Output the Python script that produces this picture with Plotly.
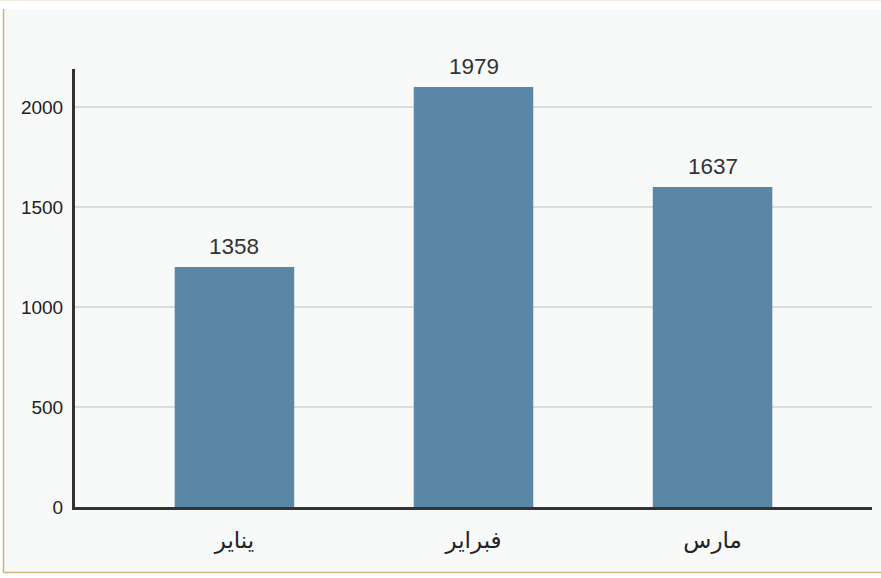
import plotly.graph_objects as go

months = ["يناير", "فبراير", "مارس"]
bar_heights = [1200, 2100, 1600]
value_labels = ["1358", "1979", "1637"]
y_ticks = [0, 500, 1000, 1500, 2000]

BAR = "#5b87a7"
FONT = "Liberation Sans, Arial, DejaVu Sans, sans-serif"

fig = go.Figure()
fig.add_trace(go.Bar(
    x=months, y=bar_heights, width=0.5,
    marker=dict(color=BAR, line=dict(width=0)),
    hoverinfo="skip",
))

for m, h, lab in zip(months, bar_heights, value_labels):
    fig.add_annotation(x=m, y=h, text=lab, showarrow=False,
                       yanchor="bottom", yshift=6,
                       font=dict(family=FONT, size=22.5, color="#333333"))

W, H = 881, 578
L, R, T, B = 75, 9, 69, 71
pw, ph = W - L - R, H - T - B

def px(x):
    return (x - L) / pw

def py(y):
    return (H - B - y) / ph

shapes = [
    dict(type="rect", xref="paper", yref="paper", x0=px(0), x1=px(W), y0=py(9), y1=py(0),
         fillcolor="white", line=dict(width=0), layer="below"),
    dict(type="rect", xref="paper", yref="paper", x0=px(0), x1=px(3), y0=py(H), y1=py(0),
         fillcolor="white", line=dict(width=0), layer="below"),
    dict(type="rect", xref="paper", yref="paper", x0=px(0), x1=px(W), y0=py(H), y1=py(573),
         fillcolor="white", line=dict(width=0), layer="below"),
    dict(type="line", xref="paper", yref="paper", x0=px(3.5), x1=px(3.5), y0=py(572.5), y1=py(9),
         line=dict(color="#cdb882", width=1.5)),
    dict(type="line", xref="paper", yref="paper", x0=px(3.5), x1=px(W), y0=py(572.5), y1=py(572.5),
         line=dict(color="#cdb882", width=1.5)),
    dict(type="line", xref="paper", yref="paper", x0=px(0), x1=px(W), y0=py(0.5), y1=py(0.5),
         line=dict(color="#f1ede3", width=1)),
]

fig.update_layout(
    width=W, height=H,
    margin=dict(l=L, r=R, t=T, b=B, pad=0),
    paper_bgcolor="#f8f9f9",
    plot_bgcolor="#f8f9f9",
    showlegend=False,
    shapes=shapes,
    xaxis=dict(
        type="category", range=[-0.667, 2.667],
        showgrid=False, zeroline=False,
        showline=True, linecolor="#333333", linewidth=3,
        ticks="", ticklabelstandoff=10,
        tickfont=dict(family=FONT, size=23, color="#222222"),
        fixedrange=True,
    ),
    yaxis=dict(
        range=[0, 2190], tickvals=y_ticks,
        showgrid=True, gridcolor="#dcdcdc", gridwidth=2,
        zeroline=False,
        showline=True, linecolor="#333333", linewidth=3,
        ticks="", ticklabelstandoff=5,
        tickfont=dict(family=FONT, size=19, color="#222222"),
        fixedrange=True,
    ),
)

fig.write_html("out.html", config={"displayModeBar": False},
               post_script="document.body.style.margin='0';document.body.style.overflow='hidden';")
